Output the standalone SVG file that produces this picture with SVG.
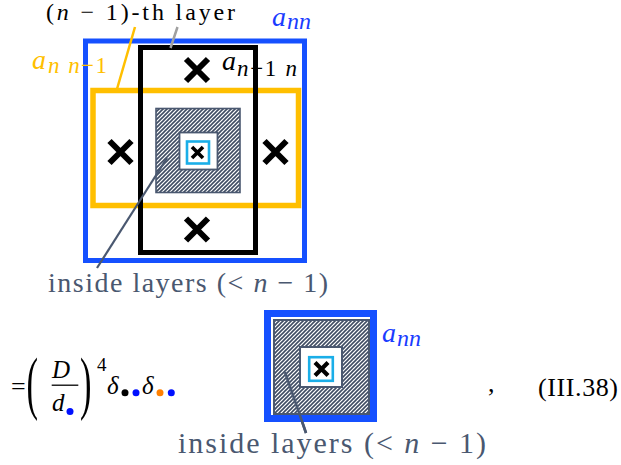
<svg xmlns="http://www.w3.org/2000/svg" width="621" height="465" viewBox="0 0 621 465">
<style>
text{font-family:"Liberation Serif","Times New Roman",serif;}
.it{font-style:italic;}
.xm{stroke:#000;stroke-linecap:butt;fill:none;}
.lbl{fill:#4a5870;}
</style>
<defs>
<pattern id="hatch" patternUnits="userSpaceOnUse" width="4" height="4">
<rect x="0" y="0" width="4" height="4" fill="#fff"/>
<path d="M-1,1 L1,-1 M0,4 L4,0 M3,5 L5,3" stroke="#3f4c63" stroke-width="1.6"/>
</pattern>
</defs>
<rect width="621" height="465" fill="#fff"/>

<!-- top diagram -->
<g id="layer-nn"><rect x="85.5" y="41" width="219" height="219.5" fill="none" stroke="#1550ff" stroke-width="5"/></g>
<g id="layer-n-n1"><rect x="93" y="90.5" width="205.5" height="115" fill="none" stroke="#ffbf00" stroke-width="5.5"/></g>
<g id="layer-n1-n"><rect x="140.5" y="47.5" width="115" height="205" fill="none" stroke="#000" stroke-width="5"/></g>
<g id="inside-top">
<rect x="156" y="108.5" width="84" height="84" fill="url(#hatch)" stroke="#4a5870" stroke-width="1.6"/>
<rect x="179.5" y="132.5" width="38" height="37" fill="#fff" stroke="#4a5870" stroke-width="1.8"/>
<rect x="187" y="141.5" width="22" height="22" fill="#fff" stroke="#1aaee8" stroke-width="2.6"/>
<path class="xm" d="M192 147L203 158M203 147L192 158" stroke-width="3.6"/>
</g>
<g id="cross-top"><path class="xm" d="M186 59L208 81M208 59L186 81" stroke-width="6"/></g>
<g id="cross-left"><path class="xm" d="M109.5 141L131.5 163M131.5 141L109.5 163" stroke-width="6"/></g>
<g id="cross-right"><path class="xm" d="M264.5 141L286.5 163M286.5 141L264.5 163" stroke-width="6"/></g>
<g id="cross-bottom"><path class="xm" d="M186 218.5L208 240.5M208 218.5L186 240.5" stroke-width="6"/></g>

<g id="connectors">
<line x1="135" y1="27" x2="117" y2="89" stroke="#ffbf00" stroke-width="2.5"/>
<line x1="177.5" y1="27" x2="170.5" y2="48" stroke="#a0a0a0" stroke-width="2.5"/>
<line x1="167" y1="158" x2="97" y2="268" stroke="#4a5870" stroke-width="2.2"/>
<line x1="285" y1="372" x2="306" y2="433" stroke="#4a5870" stroke-width="2.5"/>
</g>

<g id="labels-top">
<text x="46" y="20" font-size="24" textLength="189" lengthAdjust="spacing">(<tspan class="it">n</tspan> − 1)-th layer</text>
<text x="272" y="26" font-size="28" class="it" fill="#1a3cff">a</text>
<text x="287" y="29" font-size="24" class="it" fill="#1a3cff">nn</text>
<text x="32" y="69" font-size="28" class="it" fill="#ffbf00">a</text>
<text x="48" y="73" font-size="23" fill="#ffbf00" textLength="59" lengthAdjust="spacing"><tspan class="it">n</tspan> <tspan class="it">n</tspan>−1</text>
<text x="222" y="70" font-size="28" class="it" fill="#000">a</text>
<text x="237" y="76" font-size="23" fill="#000" textLength="60" lengthAdjust="spacing"><tspan class="it">n</tspan>−1 <tspan class="it">n</tspan></text>
<text x="48" y="292" font-size="28" class="lbl" textLength="280" lengthAdjust="spacing">inside layers (&lt; <tspan class="it">n</tspan> − 1)</text>
</g>

<!-- equation -->
<g id="equation">
<text x="11" y="395" font-size="26">=</text>
<text transform="translate(28,405.6) scale(0.5,1)" x="-3" y="0" font-size="69">(</text>
<text x="52" y="378" font-size="25" class="it">D</text>
<line x1="51.7" y1="385.2" x2="78.3" y2="385.2" stroke="#000" stroke-width="1.3"/>
<text x="52" y="411" font-size="25" class="it">d</text>
<circle cx="70" cy="411.5" r="3.5" fill="#0010ff"/>
<text transform="translate(81,405.6) scale(0.5,1)" x="-2" y="0" font-size="69">)</text>
<text x="97" y="371" font-size="19">4</text>
<text x="107" y="394" font-size="25" class="it">δ</text>
<circle cx="125" cy="392.7" r="3.5" fill="#000"/>
<circle cx="136" cy="392.7" r="3.5" fill="#0010ff"/>
<text x="142" y="394" font-size="25" class="it">δ</text>
<circle cx="160" cy="392.7" r="3.5" fill="#ff8000"/>
<circle cx="171.3" cy="392.7" r="3.5" fill="#0010ff"/>
</g>

<!-- bottom diagram -->
<g id="layer-nn-bottom"><rect x="267.5" y="313.5" width="106" height="105" fill="none" stroke="#1550ff" stroke-width="7"/></g>
<g id="inside-bottom">
<rect x="274" y="320" width="95" height="94" fill="url(#hatch)" stroke="#4a5870" stroke-width="2"/>
<rect x="300" y="347" width="42" height="40" fill="#fff" stroke="#4a5870" stroke-width="2"/>
<rect x="309.2" y="357.2" width="23.6" height="23.6" fill="#fff" stroke="#1aaee8" stroke-width="2.6"/>
<path class="xm" d="M315 362.5L328 375.5M328 362.5L315 375.5" stroke-width="4.2"/>
</g>
<line x1="285" y1="372" x2="306" y2="433" stroke="#4a5870" stroke-width="2.5"/>

<g id="labels-bottom">
<text x="382" y="342" font-size="28" class="it" fill="#1a3cff">a</text>
<text x="397" y="346" font-size="24" class="it" fill="#1a3cff">nn</text>
<text x="178" y="453" font-size="30" class="lbl" textLength="308" lengthAdjust="spacing">inside layers (&lt; <tspan class="it">n</tspan> − 1)</text>
<text x="488" y="392" font-size="26">,</text>
<text x="538" y="396" font-size="26" textLength="80" lengthAdjust="spacing">(III.38)</text>
</g>
</svg>
